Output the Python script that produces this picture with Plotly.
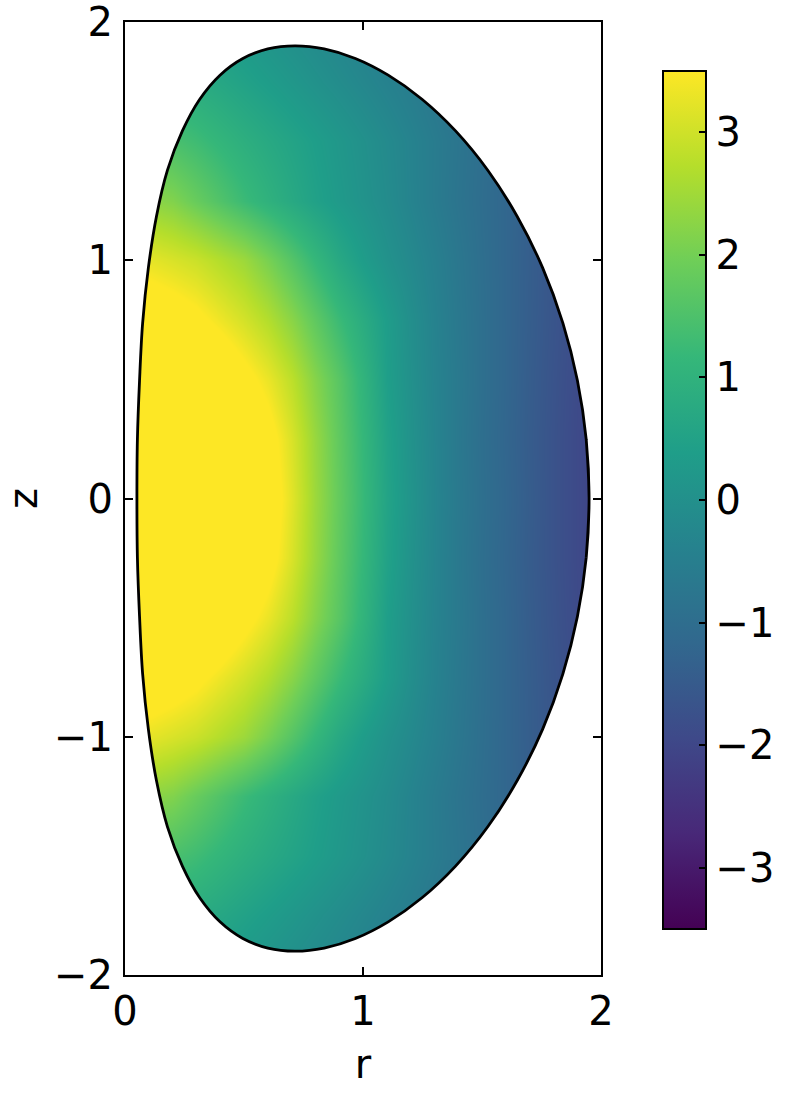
import plotly.graph_objects as go

# grid of the field (top half z >= 0, field is symmetric in z)
r_grid = [0.0, 0.1, 0.2, 0.3, 0.4, 0.5, 0.6, 0.7, 0.8, 0.9, 1.0,
          1.1, 1.2, 1.3, 1.4, 1.5, 1.6, 1.7, 1.8, 1.9, 2.0]
z_half = [0.0, 0.25, 0.5, 0.75, 1.0, 1.25, 1.5, 1.75, 2.0]

row_z000 = [5.8, 5.7, 5.5, 5.2, 4.8, 4.4, 3.9, 3.2, 2.45, 1.8, 1.2, 0.55, 0.1, -0.3, -0.65, -0.95, -1.2, -1.45, -1.7, -1.92, -2.1]
row_z025 = [5.6, 5.5, 5.3, 5.0, 4.6, 4.2, 3.75, 3.1, 2.4, 1.75, 1.15, 0.5, 0.05, -0.32, -0.67, -0.97, -1.22, -1.47, -1.7, -1.92, -2.1]
row_z050 = [5.0, 4.9, 4.7, 4.4, 4.1, 3.7, 3.3, 2.8, 2.2, 1.65, 1.05, 0.4, 0.0, -0.35, -0.65, -0.95, -1.2, -1.45, -1.68, -1.9, -2.08]
row_z075 = [4.1, 4.0, 3.85, 3.65, 3.35, 3.05, 2.7, 2.25, 1.75, 1.25, 0.8, 0.35, -0.05, -0.38, -0.68, -0.95, -1.2, -1.43, -1.65, -1.87, -2.05]
row_z100 = [3.3, 3.25, 3.1, 2.95, 2.7, 2.45, 2.05, 1.6, 1.15, 0.7, 0.35, 0.05, -0.2, -0.45, -0.72, -0.97, -1.2, -1.42, -1.63, -1.85, -2.0]
row_z125 = [2.35, 2.3, 2.15, 1.85, 1.55, 1.25, 0.98, 0.72, 0.48, 0.27, 0.08, -0.12, -0.35, -0.58, -0.8, -1.0, -1.2, -1.4, -1.6, -1.8, -1.95]
row_z150 = [1.6, 1.55, 1.45, 1.3, 1.1, 0.9, 0.72, 0.55, 0.38, 0.2, 0.02, -0.17, -0.37, -0.57, -0.77, -0.97, -1.17, -1.37, -1.57, -1.75, -1.9]
row_z175 = [1.0, 0.95, 0.88, 0.78, 0.65, 0.5, 0.35, 0.2, 0.05, -0.1, -0.25, -0.4, -0.55, -0.72, -0.9, -1.07, -1.25, -1.42, -1.6, -1.75, -1.9]
row_z200 = [0.6, 0.55, 0.48, 0.4, 0.3, 0.18, 0.05, -0.08, -0.2, -0.33, -0.46, -0.6, -0.74, -0.88, -1.02, -1.17, -1.32, -1.47, -1.62, -1.77, -1.9]

half_rows = [row_z000, row_z025, row_z050, row_z075, row_z100,
             row_z125, row_z150, row_z175, row_z200]

# plasma boundary, upper half (left -> right)
bnd_r = [0.050, 0.052, 0.061, 0.074, 0.098, 0.132, 0.178, 0.241, 0.314, 0.399,
         0.495, 0.600, 0.714, 0.837, 0.968, 1.106, 1.248, 1.389, 1.525, 1.648,
         1.755, 1.840, 1.901, 1.938, 1.950]
bnd_z = [0.0, 0.248, 0.495, 0.736, 0.968, 1.184, 1.377, 1.543, 1.676, 1.777,
         1.847, 1.887, 1.900, 1.887, 1.847, 1.777, 1.676, 1.543, 1.377, 1.184,
         0.968, 0.736, 0.495, 0.248, 0.0]

FONT = "DejaVu Sans"
FS = 40

# full grid, mirrored in z
z_grid = [-v for v in z_half[::-1]] + z_half[1:]
rows = half_rows[::-1] + half_rows[1:]

fig = go.Figure()
fig.add_trace(go.Heatmap(
    x=r_grid, y=z_grid, z=rows, zsmooth="best",
    colorscale="Viridis", zmin=-3.5, zmax=3.5, hoverinfo="skip",
    colorbar=dict(
        x=(663 - 125) / 476, xanchor="left", xpad=0,
        y=(975 - 500) / 953, yanchor="middle", ypad=0,
        lenmode="pixels", len=858, thickness=43,
        outlinewidth=2, outlinecolor="black",
        tickvals=[-3, -2, -1, 0, 1, 2, 3], ticks="inside", ticklen=8,
        tickwidth=1.5, tickcolor="black",
        tickfont=dict(family=FONT, size=FS, color="black"),
    ),
))

# white masks outside the boundary (top and bottom), spline through the same points
top_r = [bnd_r[1]] + bnd_r + [bnd_r[-2]]
top_z = [-bnd_z[1]] + bnd_z + [-bnd_z[-2]]
for sgn in (1, -1):
    fig.add_trace(go.Scatter(x=[-0.5, 2.5], y=[2.6 * sgn, 2.6 * sgn], mode="lines",
                             line=dict(width=0, color="white"), hoverinfo="skip",
                             showlegend=False))
    fig.add_trace(go.Scatter(x=top_r, y=[sgn * v for v in top_z], mode="lines",
                             line=dict(width=0, color="white", shape="spline"),
                             fill="tonexty", fillcolor="white", hoverinfo="skip",
                             showlegend=False))

# left / right strips outside the boundary
r_min, r_max = bnd_r[0], bnd_r[-1]
for xs in ([-0.5, r_min, r_min, -0.5], [r_max, 2.5, 2.5, r_max]):
    fig.add_trace(go.Scatter(x=xs, y=[-2.6, -2.6, 2.6, 2.6], mode="lines",
                             fill="toself", fillcolor="white",
                             line=dict(width=0, color="white"),
                             hoverinfo="skip", showlegend=False))

# boundary outline
rev_r = bnd_r[::-1]
rev_z = bnd_z[::-1]
out_r = [bnd_r[-2]] + rev_r + bnd_r[1:] + [bnd_r[-2]]
out_z = [-bnd_z[-2]] + rev_z + [-v for v in bnd_z[1:]] + [bnd_z[-2]]
fig.add_trace(go.Scatter(x=out_r, y=out_z, mode="lines",
                         line=dict(color="black", width=2.8, shape="spline"),
                         hoverinfo="skip", showlegend=False))

axis_common = dict(
    showgrid=False, zeroline=False, showline=True, linecolor="black", linewidth=2,
    mirror="ticks", ticks="inside", ticklen=8, tickwidth=1.5, tickcolor="black",
    tickfont=dict(family=FONT, size=FS, color="black"),
    automargin=False, ticklabeloverflow="allow",
)
fig.update_xaxes(range=[-0.0001, 2.0001], tickvals=[0, 1, 2], ticklabelstandoff=0,
                 title=dict(text="r", font=dict(family=FONT, size=FS, color="black"), standoff=17),
                 **axis_common)
fig.update_yaxes(range=[-2.0002, 2.0002], tickvals=[-2, -1, 0, 1, 2], ticklabelstandoff=2,
                 title=dict(text="z", font=dict(family=FONT, size=FS, color="black"), standoff=44),
                 **axis_common)

fig.update_layout(
    width=790, height=1095,
    margin=dict(l=125, r=189, t=22, b=120, autoexpand=False),
    plot_bgcolor="white", paper_bgcolor="white",
    showlegend=False,
    font=dict(family=FONT, size=FS, color="black"),
)

fig.write_html("out.html", config={"displayModeBar": False},
               post_script="document.body.style.margin='0';")
